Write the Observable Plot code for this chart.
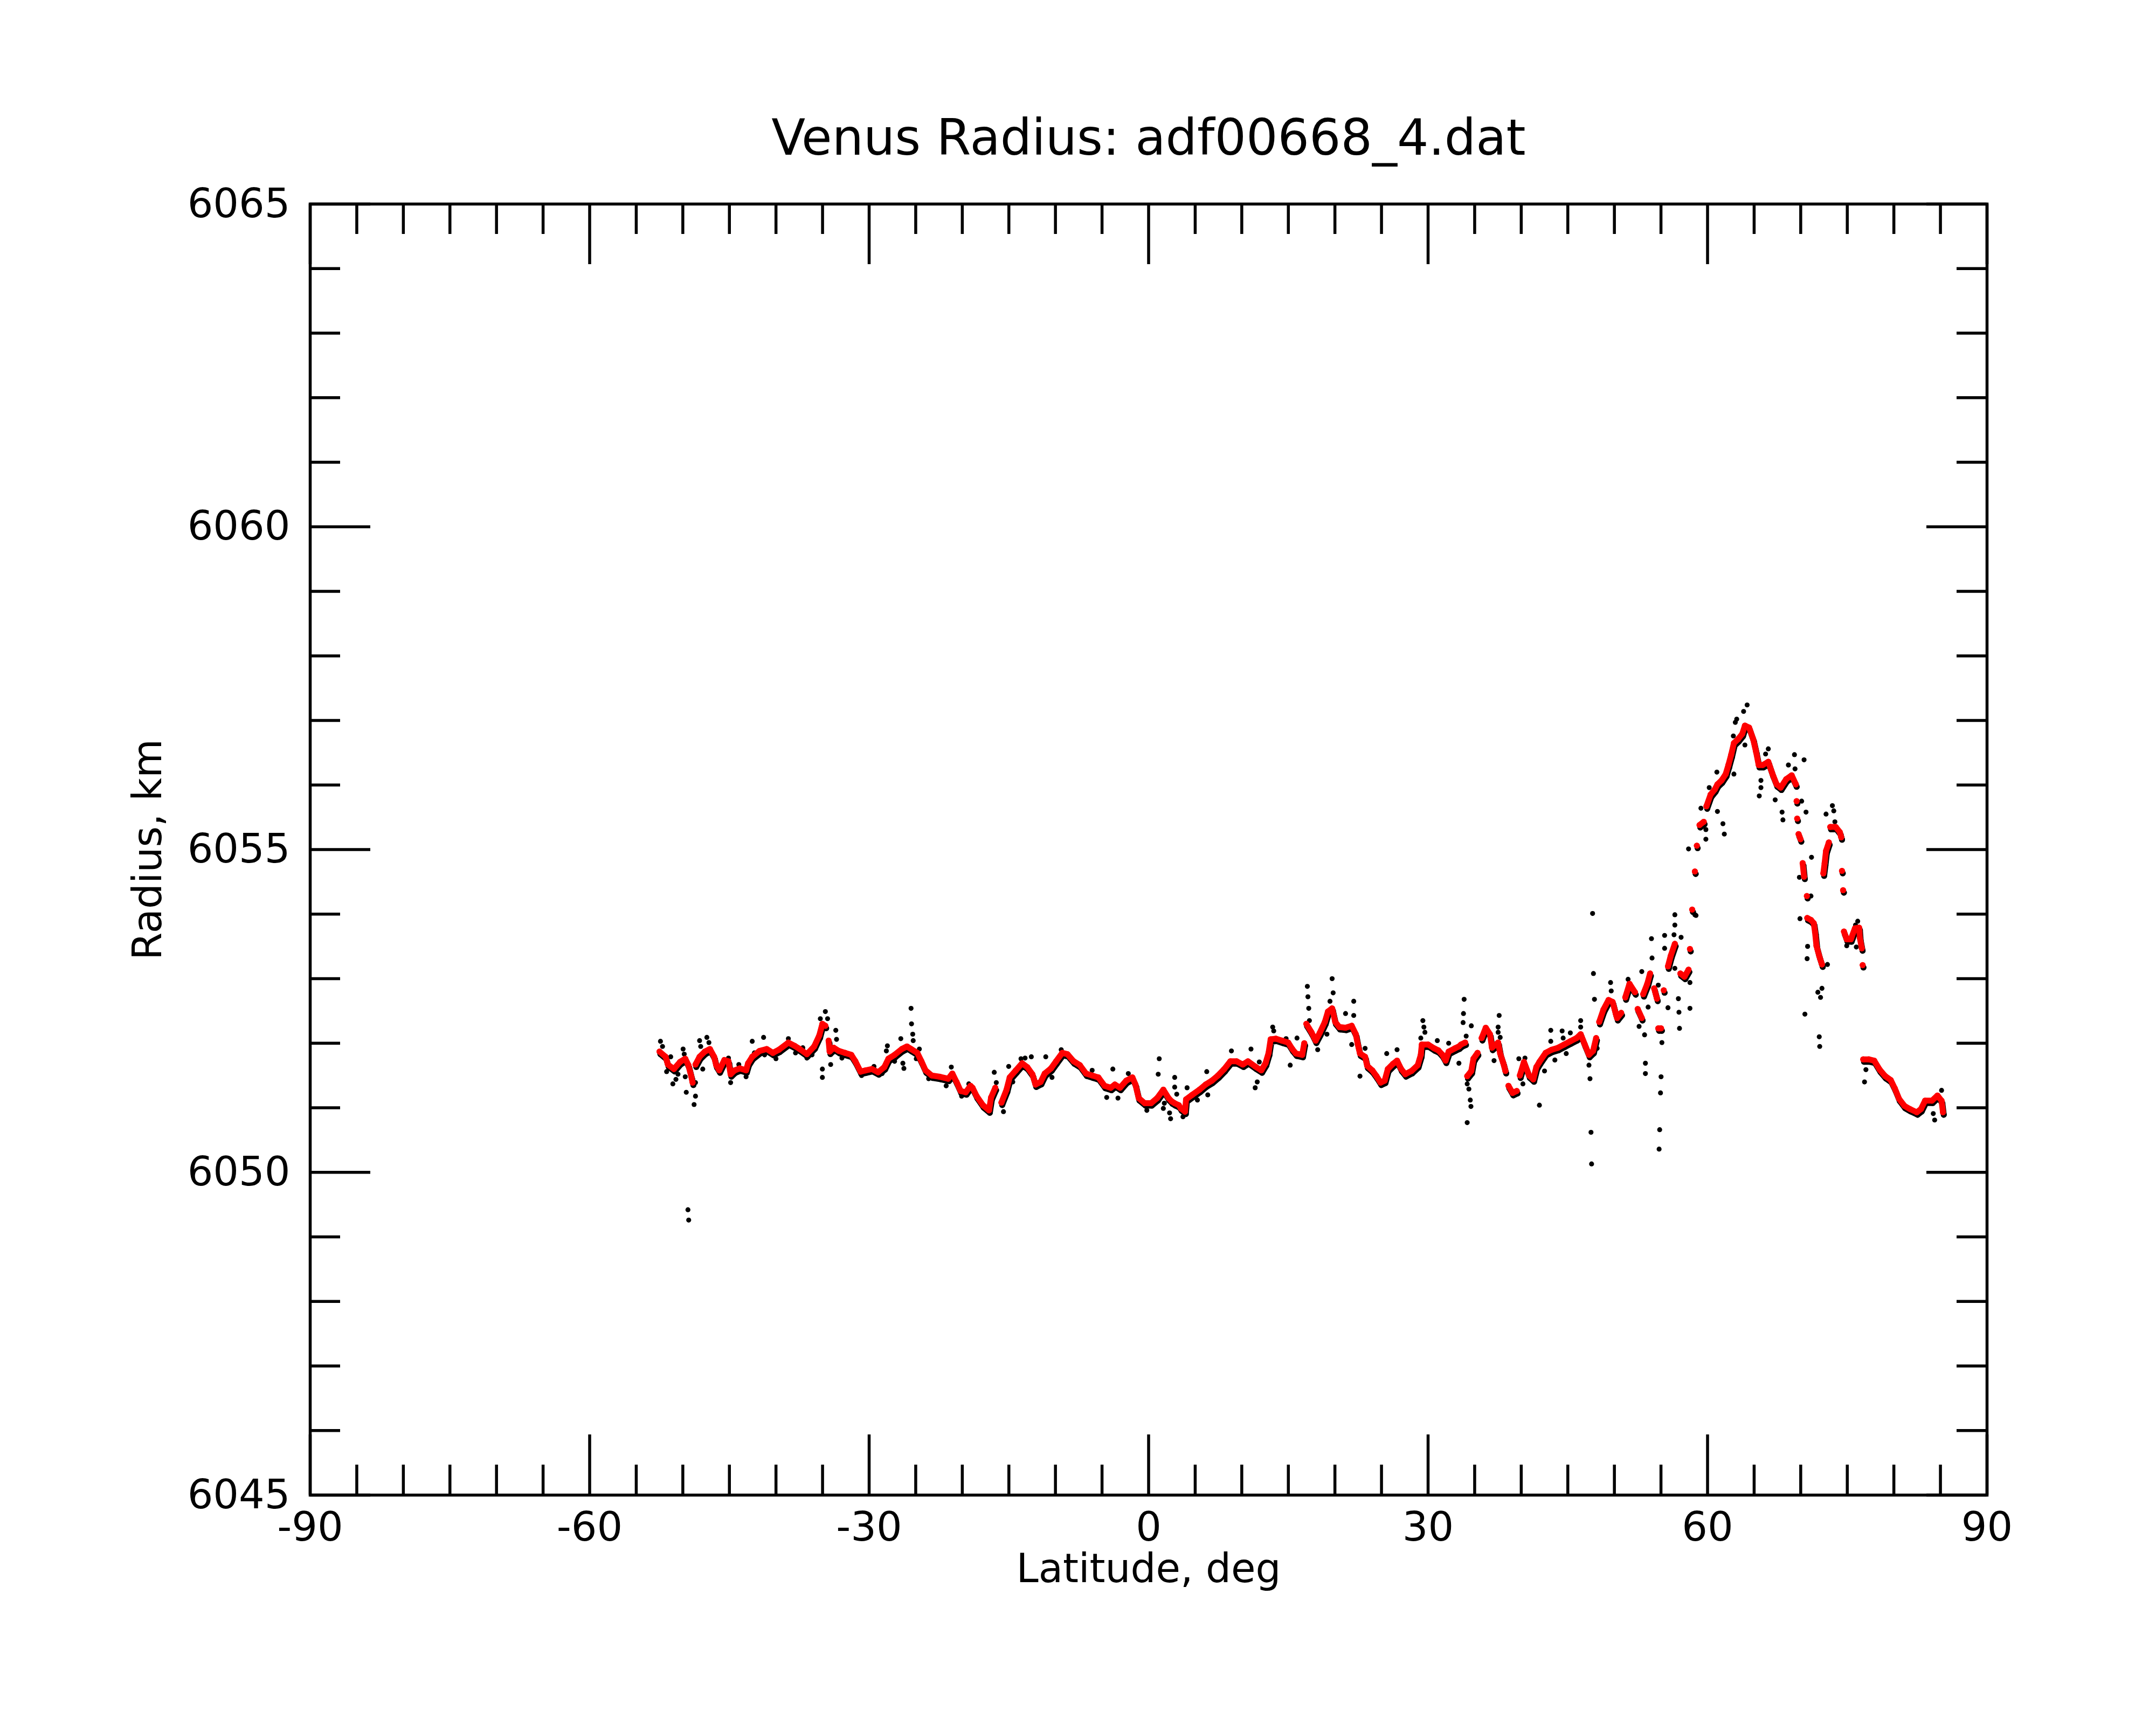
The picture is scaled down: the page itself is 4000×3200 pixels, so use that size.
<!DOCTYPE html>
<html>
<head>
<meta charset="utf-8">
<script src="https://cdn.jsdelivr.net/npm/d3@7"></script>
<script src="https://cdn.jsdelivr.net/npm/@observablehq/plot@0.6"></script>
<style>html,body{margin:0;padding:0;background:#fff}</style>
</head>
<body>
<div id="chart"></div>
<script>
const title = "Venus Radius: adf00668_4.dat";
const xLabel = "Latitude, deg";
const yLabel = "Radius, km";
const xMajorTicks = [-90, -60, -30, 0, 30, 60, 90];
const xMinorTicks = [-85,-80,-75,-70,-65,-55,-50,-45,-40,-35,-25,-20,-15,-10,-5,5,10,15,20,25,35,40,45,50,55,65,70,75,80,85];
const yMajorTicks = [6045, 6050, 6055, 6060, 6065];
const yMinorTicks = [6046,6047,6048,6049,6051,6052,6053,6054,6056,6057,6058,6059,6061,6062,6063,6064];

// smoothed profile (red)
const smoothLat = [-52.5,-51.85,-51.6,-50.96,-50.3,-49.74,-49.4,-49.08,-48.95,-48.64,-48.2,-47.64,-47.09,-46.64,-46.42,-46.09,-45.54,-45.1,-44.87,-44.43,-43.88,-43.21,-42.99,-42.55,-41.77,-41.0,-40.33,-39.67,-38.67,-38.0,-37.45,-36.68,-35.9,-35.35,-35.02,-34.7,-34.35,-34.24,-33.8,-33.25,-32.58,-31.92,-31.48,-30.92,-30.37,-29.7,-29.04,-28.37,-27.93,-27.27,-26.49,-25.94,-25.5,-24.83,-24.39,-23.95,-23.28,-22.4,-21.51,-21.07,-20.62,-20.18,-19.63,-19.12,-18.9,-18.46,-17.79,-17.13,-16.91,-16.46,-15.8,-15.25,-14.91,-14.25,-13.58,-13.03,-12.48,-12.14,-11.59,-11.15,-10.48,-9.93,-9.27,-8.71,-8.05,-7.38,-6.72,-6.06,-5.39,-4.73,-4.06,-3.62,-3.07,-2.4,-1.74,-1.41,-1.07,-0.41,0.26,0.92,1.58,2.14,2.47,2.8,3.24,3.47,3.91,4.02,4.68,5.46,6.12,6.79,7.45,8.12,8.78,9.45,10.11,10.66,11.44,12.1,12.55,12.88,13.1,13.65,14.32,14.98,15.42,15.82,16.49,16.71,16.93,17.48,17.93,18.37,18.92,19.25,19.7,20.03,20.47,21.14,21.8,22.24,22.46,22.69,23.24,23.46,24.01,24.46,24.9,25.34,25.68,26.23,26.67,27.11,27.56,28.22,28.89,29.22,29.33,30.0,30.66,31.1,31.54,31.88,32.21,32.87,33.31,33.54,33.98,34.2,34.64,34.87,35.31,35.75,36.19,36.64,36.86,37.52,37.74,38.08,38.3,38.63,39.07,39.52,39.85,40.29,40.84,41.29,41.62,41.95,42.62,43.28,43.95,44.61,45.27,45.94,46.38,46.82,47.27,47.71,48.04,48.37,48.82,49.37,49.81,50.14,50.29,50.73,51.17,51.62,52.21,52.5,52.94,53.09,53.53,53.83,54.27,54.57,54.71,55.01,55.3,55.75,56.04,56.49,57.08,57.52,57.96,58.11,58.35,58.64,58.85,59.14,59.59,59.88,60.32,60.77,61.06,61.5,61.95,62.24,62.54,62.83,63.27,63.72,64.01,64.46,64.9,65.2,65.49,65.93,66.52,66.97,67.41,67.85,68.44,69.03,69.48,69.56,69.62,69.77,69.98,70.21,70.36,70.66,70.7,71.1,71.4,71.54,71.69,71.99,72.28,72.43,72.57,72.72,73.02,73.17,73.76,74.2,74.35,74.43,74.55,74.64,74.94,75.38,75.82,76.27,76.35,76.56,76.65,76.71,77.3,77.89,78.48,79.07,79.66,80.1,80.55,81.13,81.73,82.46,82.91,83.35,84.09,84.68,85.12,85.27];
const smoothRadius = [6051.87,6051.79,6051.67,6051.60,6051.71,6051.76,6051.66,6051.48,6051.39,6051.67,6051.79,6051.87,6051.91,6051.79,6051.66,6051.58,6051.74,6051.72,6051.52,6051.58,6051.61,6051.58,6051.69,6051.79,6051.88,6051.91,6051.85,6051.90,6052.01,6051.96,6051.91,6051.83,6051.95,6052.12,6052.30,6052.27,6052.04,6051.87,6051.93,6051.88,6051.85,6051.82,6051.72,6051.56,6051.58,6051.60,6051.55,6051.63,6051.76,6051.82,6051.91,6051.95,6051.91,6051.85,6051.72,6051.58,6051.50,6051.48,6051.45,6051.53,6051.40,6051.26,6051.24,6051.34,6051.31,6051.18,6051.04,6050.96,6051.16,6051.31,6051.08,6051.28,6051.47,6051.58,6051.69,6051.63,6051.52,6051.36,6051.40,6051.53,6051.61,6051.72,6051.85,6051.83,6051.72,6051.66,6051.53,6051.50,6051.47,6051.34,6051.31,6051.36,6051.31,6051.42,6051.47,6051.36,6051.15,6051.07,6051.07,6051.15,6051.28,6051.15,6051.10,6051.07,6051.04,6050.99,6050.94,6051.13,6051.20,6051.28,6051.36,6051.42,6051.50,6051.60,6051.72,6051.72,6051.67,6051.72,6051.64,6051.58,6051.69,6051.85,6052.06,6052.07,6052.04,6052.01,6051.91,6051.84,6051.82,6052.00,6052.30,6052.17,6052.04,6052.16,6052.33,6052.49,6052.54,6052.33,6052.25,6052.24,6052.27,6052.14,6051.98,6051.84,6051.79,6051.65,6051.58,6051.49,6051.39,6051.42,6051.60,6051.68,6051.73,6051.60,6051.52,6051.57,6051.66,6051.82,6051.98,6051.98,6051.92,6051.89,6051.82,6051.73,6051.87,6051.92,6051.95,6051.98,6052.01,6051.49,6051.57,6051.76,6051.85,6052.08,6052.24,6052.14,6051.93,6052.01,6051.84,6051.69,6051.57,6051.34,6051.23,6051.26,6051.50,6051.71,6051.50,6051.44,6051.63,6051.71,6051.85,6051.90,6051.93,6051.98,6052.03,6052.08,6052.14,6051.98,6051.82,6051.88,6052.08,6052.33,6052.52,6052.67,6052.64,6052.46,6052.39,6052.47,6052.71,6052.92,6052.79,6052.53,6052.39,6052.76,6052.92,6053.08,6052.85,6052.69,6052.23,6052.23,6052.82,6053.19,6053.35,6053.54,6053.08,6053.03,6053.14,6053.46,6054.07,6054.66,6055.06,6055.38,6055.43,6055.67,6055.85,6055.93,6056.01,6056.07,6056.17,6056.31,6056.47,6056.65,6056.71,6056.79,6056.92,6056.89,6056.71,6056.52,6056.31,6056.31,6056.36,6056.17,6056.01,6055.96,6056.09,6056.15,6056.01,6055.75,6055.48,6055.24,6055.16,6054.79,6054.58,6054.28,6053.94,6053.91,6053.86,6053.72,6053.51,6053.35,6053.22,6054.63,6054.79,6054.98,6055.11,6055.35,6055.35,6055.27,6055.19,6054.67,6054.37,6053.73,6053.61,6053.61,6053.78,6053.79,6053.63,6053.47,6053.21,6051.75,6051.75,6051.73,6051.59,6051.49,6051.43,6051.30,6051.14,6051.03,6050.98,6050.93,6050.98,6051.11,6051.11,6051.19,6051.11,6050.93];

// raw samples visible away from the smoothed profile (black)
const rawLat = [-52.4,-52.18,-51.74,-51.3,-51.07,-50.74,-50.52,-49.97,-49.85,-49.74,-49.63,-48.64,-48.64,-48.79,-48.2,-48.08,-47.86,-47.42,-47.2,-49.45,-49.37,-45.98,-45.1,-44.87,-43.99,-43.21,-42.55,-42.32,-41.33,-41.22,-40.0,-38.67,-37.9,-37.12,-36.68,-36.13,-35.24,-34.7,-34.46,-33.58,-35.02,-35.02,-34.13,-33.5,-32.92,-30.81,-29.48,-28.6,-28.04,-28.15,-27.27,-26.6,-26.38,-26.27,-25.5,-25.45,-25.32,-25.27,-24.94,-24.61,-23.61,-21.73,-21.18,-20.07,-19.3,
-16.57,-16.35,-15.58,-15.02,-14.58,-13.7,-13.26,-12.59,-11.04,-10.37,-9.38,-6.06,-5.28,-4.5,-3.84,-3.29,-2.18,-0.19,1.14,1.03,1.58,1.69,2.25,2.36,2.8,2.8,3.02,3.69,4.13,5.24,6.24,6.35,8.89,10.99,11.44,11.66,11.88,13.32,13.43,14.76,15.2,
17.04,17.1,17.19,17.26,15.93,18.15,19.14,19.7,19.81,19.47,21.14,22.02,22.02,21.8,22.69,23.24,25.56,26.67,29.44,29.55,29.66,29.22,30.99,32.21,33.31,33.87,33.8,33.76,34.09,34.2,34.38,34.53,34.6,34.2,34.64,35.09,37.08,37.63,37.52,37.52,37.74,39.74,40.18,40.4,41.95,42.5,43.17,43.17,43.61,44.39,44.5,44.83,45.27,46.38,46.38,47.27,47.38,47.66,47.75,47.86,47.49,47.55,48.15,49.59,49.66,
51.47,52.65,52.94,53.24,53.33,53.33,53.62,53.98,54.04,54.71,55.01,54.95,54.86,54.8,55.1,55.39,55.39,55.75,56.49,56.49,56.4,56.49,56.87,56.93,56.99,57.16,58.11,58.11,57.96,58.64,58.76,59.29,59.82,59.82,60.18,61.0,61.06,61.65,61.8,62.83,62.98,63.13,63.87,64.25,62.77,64.01,65.55,65.73,65.73,66.23,66.52,67.26,68.0,68.09,68.68,69.33,69.39,70.36,70.57,70.1,69.86,71.16,71.1,69.92,70.74,70.69,70.45,71.84,72.28,72.13,71.99,72.04,72.87,72.72,73.4,73.55,73.67,74.94,76.12,75.88,75.97,77.0,76.85,81.73,84.23,84.38,85.12,85.27];
const rawRadius = [6052.03,6051.95,6051.56,6051.79,6051.37,6051.44,6051.52,6051.91,6051.83,6051.48,6051.24,6051.39,6051.18,6051.05,6052.04,6051.95,6051.60,6052.09,6052.01,6049.42,6049.26,6051.56,6051.77,6051.39,6051.67,6051.48,6052.03,6051.85,6052.09,6051.82,6051.76,6052.07,6051.85,6051.93,6051.77,6051.82,6052.38,6052.49,6052.38,6052.20,6051.60,6051.47,6051.67,6052.06,6051.77,6051.50,6051.64,6051.53,6051.96,6051.88,6051.72,6052.07,6051.69,6051.61,6052.54,6052.30,6052.14,6052.04,6051.76,6051.91,6051.45,6051.34,6051.63,6051.18,6051.37,
6051.55,6051.39,6050.94,6051.64,6051.40,6051.76,6051.77,6051.79,6051.79,6051.47,6051.90,6051.58,6051.43,6051.16,6051.60,6051.15,6051.53,6050.96,6051.76,6051.52,6050.99,6051.07,6050.92,6050.83,6051.47,6051.32,6051.21,6050.86,6051.31,6051.12,6051.56,6051.20,6051.88,6051.91,6051.31,6051.40,6051.71,6052.25,6052.19,6052.07,6051.66,
6052.88,6052.72,6052.54,6052.35,6052.08,6051.90,6052.14,6053.00,6052.78,6052.65,6052.46,6052.65,6052.43,6051.98,6051.49,6051.92,6051.84,6051.90,6052.35,6052.25,6052.17,6052.08,6052.04,6052.00,6051.69,6052.68,6052.46,6052.32,6052.11,6051.37,6051.29,6051.12,6051.02,6050.77,6052.27,6051.73,6051.73,6052.43,6052.25,6052.17,6052.09,6051.76,6051.37,6051.77,6051.04,6051.57,6052.20,6052.03,6051.74,6052.19,6052.08,6051.84,6052.16,6052.35,6052.25,6051.66,6051.45,6054.01,6053.08,6052.68,6050.62,6050.13,6051.92,6052.94,6052.81,
6052.99,6052.26,6053.11,6052.13,6051.69,6051.53,6052.56,6053.62,6053.32,6052.90,6051.48,6051.23,6050.66,6050.36,6052.01,6053.67,6053.47,6052.55,6053.99,6053.83,6053.68,6053.16,6052.69,6052.48,6052.23,6053.64,6052.94,6052.54,6055.01,6053.99,6053.98,6055.64,6055.16,6055.31,6055.96,6056.20,6055.59,6055.40,6055.24,6056.17,6056.97,6057.02,6057.14,6057.24,6056.76,6056.62,6055.83,6056.07,6055.96,6056.48,6056.56,6055.77,6055.58,6055.46,6056.31,6056.47,6056.25,6056.39,6055.58,6055.75,6054.57,6054.88,6054.28,6053.93,6053.50,6053.31,6052.45,6052.79,6052.85,6052.71,6052.10,6051.95,6053.22,6055.55,6055.68,6055.60,6055.43,6053.51,6053.89,6053.83,6053.49,6051.59,6051.40,6050.95,6050.91,6050.81,6051.27,6051.01];

const smooth = smoothLat.map((lat, i) => ({lat, r: smoothRadius[i]}));
let seg = 0;
smooth.forEach((d, i) => {
  if (i > 0 && Math.abs(d.r - smooth[i - 1].r) > 0.22) seg++;
  d.seg = seg;
});
const raw = rawLat.map((lat, i) => ({lat, r: rawRadius[i]}));

const W = 4000, H = 3200;
const mL = 575, mR = 314, mT = 378, mB = 427;
const innerH = H - mT - mB, innerW = W - mL - mR;
const majorLen = 112, minorLen = 56, sw = 5.5;

const plot = Plot.plot({
  width: W,
  height: H,
  marginLeft: mL,
  marginRight: mR,
  marginTop: mT,
  marginBottom: mB,
  style: {fontFamily: "DejaVu Sans", background: "white", color: "black"},
  x: {domain: [-90, 90]},
  y: {domain: [6045, 6065]},
  marks: [
    Plot.line(smooth, {x: "lat", y: "r", z: "seg", stroke: "black", strokeWidth: 11, dx: 1.5, dy: 4.5}),
    Plot.dot(smooth, {x: "lat", y: "r", r: 5.5, fill: "black", dx: 1.5, dy: 4.5}),
    Plot.dot(raw, {x: "lat", y: "r", r: 4.6, fill: "black"}),
    Plot.line(smooth, {x: "lat", y: "r", z: "seg", stroke: "#ff0000", strokeWidth: 11}),
    Plot.dot(smooth, {x: "lat", y: "r", r: 5.6, fill: "#ff0000"}),
    // ticks on all four sides, pointing inward
    Plot.ruleX(xMajorTicks, {x: d => d, insetTop: innerH - majorLen, strokeWidth: sw}),
    Plot.ruleX(xMajorTicks, {x: d => d, insetBottom: innerH - majorLen, strokeWidth: sw}),
    Plot.ruleX(xMinorTicks, {x: d => d, insetTop: innerH - minorLen, strokeWidth: sw}),
    Plot.ruleX(xMinorTicks, {x: d => d, insetBottom: innerH - minorLen, strokeWidth: sw}),
    Plot.ruleY(yMajorTicks, {y: d => d, insetRight: innerW - majorLen, strokeWidth: sw}),
    Plot.ruleY(yMajorTicks, {y: d => d, insetLeft: innerW - majorLen, strokeWidth: sw}),
    Plot.ruleY(yMinorTicks, {y: d => d, insetRight: innerW - minorLen, strokeWidth: sw}),
    Plot.ruleY(yMinorTicks, {y: d => d, insetLeft: innerW - minorLen, strokeWidth: sw}),
    Plot.frame({stroke: "black", strokeWidth: sw}),
    Plot.axisX({ticks: xMajorTicks, tickSize: 0, tickPadding: 31, fontSize: 75, label: null, tickFormat: d => String(d)}),
    Plot.axisY({ticks: yMajorTicks, tickSize: 0, tickPadding: 37, fontSize: 75, label: null, tickFormat: d => String(d)}),
    Plot.text([title], {text: d => d, frameAnchor: "top", dy: -92, lineAnchor: "bottom", fontSize: 92, fill: "black"}),
    Plot.text([xLabel], {text: d => d, frameAnchor: "bottom", dy: 161, lineAnchor: "bottom", fontSize: 74, fill: "black"}),
    Plot.text([yLabel], {text: d => d, frameAnchor: "left", dx: -277, rotate: -90, textAnchor: "middle", lineAnchor: "bottom", fontSize: 74, fill: "black"})
  ]
});
document.getElementById("chart").append(plot);
</script>
</body>
</html>
